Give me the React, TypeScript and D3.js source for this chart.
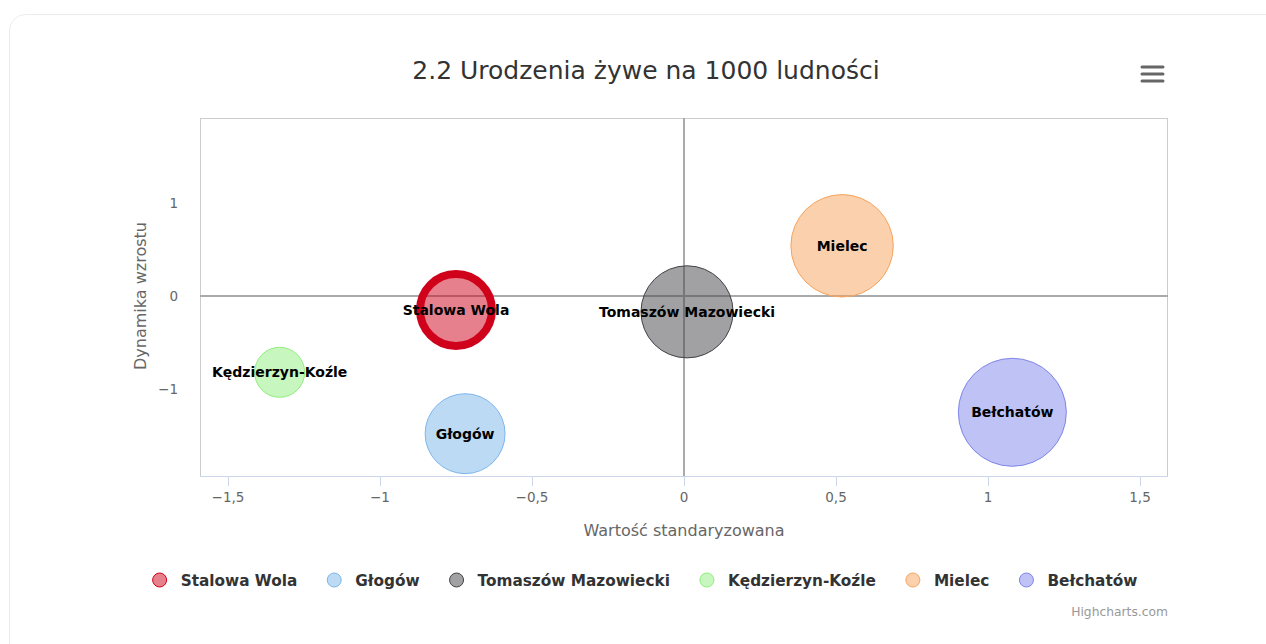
import * as d3 from "d3";
import React, { useEffect, useRef } from "react";

const cities = ["Stalowa Wola", "Głogów", "Tomaszów Mazowiecki", "Kędzierzyn-Koźle", "Mielec", "Bełchatów"];
const xValues = [-0.75, -0.72, 0.01, -1.33, 0.52, 1.08];
const yValues = [-0.15, -1.48, -0.17, -0.82, 0.54, -1.25];
const zValues = [8.6, 8.6, 9.25, 7.0, 9.8, 10.1];
const colors = ["#d0021b", "#7cb5ec", "#434348", "#90ed7d", "#f7a35c", "#8085e9"];
const xTicks = [-1.5, -1, -0.5, 0, 0.5, 1, 1.5];
const yTicks = [-1, 0, 1];

const FONT = "'DejaVu Sans', Verdana, sans-serif";

const fmt = (v: number) => {
  const s = String(Math.abs(v)).replace(".", ",");
  return v < 0 ? "−" + s : s;
};

const App = () => {
  const legendRef = useRef<SVGGElement>(null);

  const plot = { left: 200, right: 1168, top: 118, bottom: 476 };
  const x = d3.scaleLinear().domain([-1.592, 1.592]).range([plot.left, plot.right]);
  const y = d3.scaleLinear().domain([-1.935, 1.914]).range([plot.bottom, plot.top]);
  const r = d3.scaleLinear().domain([7.0, 10.1]).range([25, 54]);

  const points = cities.map((name, i) => ({
    name,
    x: xValues[i],
    y: yValues[i],
    z: zValues[i],
    color: colors[i],
    selected: i === 0,
  }));

  useEffect(() => {
    const g = d3.select(legendRef.current);
    g.selectAll("*").remove();
    const items = g.selectAll("g").data(points).join("g");
    items
      .append("circle")
      .attr("r", 7)
      .attr("cx", 7)
      .attr("cy", 0)
      .attr("fill", (d) => d.color)
      .attr("fill-opacity", 0.5)
      .attr("stroke", (d) => d.color)
      .attr("stroke-width", 1);
    items
      .append("text")
      .attr("x", 28)
      .attr("y", 5.5)
      .attr("font-family", FONT)
      .attr("font-size", 15.3)
      .attr("font-weight", "bold")
      .attr("fill", "#333")
      .text((d) => d.name);
    const widths: number[] = [];
    items.each(function () {
      const t = d3.select(this).select("text").node() as SVGTextElement;
      widths.push(28 + t.getComputedTextLength());
    });
    const gap = 30;
    const total = d3.sum(widths) + gap * (widths.length - 1);
    let cx = 645 - total / 2;
    items.attr("transform", (_, i) => {
      const tx = cx;
      cx += widths[i] + gap;
      return `translate(${tx},580)`;
    });
  }, []);

  return (
    <svg
      width={1266}
      height={644}
      style={{ position: "absolute", left: 0, top: 0, background: "#fff" }}
    >
      <rect x={9.5} y={14.5} width={1290} height={700} rx={16} fill="#fff" stroke="#ececec" />

      <text x={646} y={79} textAnchor="middle" fontFamily={FONT} fontSize={25} fill="#333">
        2.2 Urodzenia żywe na 1000 ludności
      </text>

      {/* menu button */}
      <g stroke="#666" strokeWidth={3} strokeLinecap="round">
        {[67, 74, 81].map((yy) => (
          <line key={yy} x1={1142} x2={1163} y1={yy} y2={yy} />
        ))}
      </g>

      {/* plot frame */}
      <rect
        x={plot.left + 0.5}
        y={plot.top + 0.5}
        width={plot.right - plot.left - 1}
        height={plot.bottom - plot.top}
        fill="none"
        stroke="#cccccc"
      />

      {/* x axis */}
      <line x1={plot.left} x2={plot.right} y1={plot.bottom + 0.5} y2={plot.bottom + 0.5} stroke="#ccd6eb" />
      {xTicks.map((t) => (
        <g key={t}>
          <line x1={x(t) + 0.5} x2={x(t) + 0.5} y1={plot.bottom} y2={plot.bottom + 10} stroke="#ccd6eb" />
          <text x={x(t)} y={plot.bottom + 26} textAnchor="middle" fontFamily={FONT} fontSize={13.5} fill="#666">
            {fmt(t)}
          </text>
        </g>
      ))}
      <text x={684} y={536} textAnchor="middle" fontFamily={FONT} fontSize={16} fill="#666">
        Wartość standaryzowana
      </text>

      {/* y axis */}
      {yTicks.map((t) => (
        <text key={t} x={178} y={y(t) + 5} textAnchor="end" fontFamily={FONT} fontSize={13.5} fill="#666">
          {fmt(t)}
        </text>
      ))}
      <text
        transform={`translate(146,${y(0)}) rotate(-90)`}
        textAnchor="middle"
        fontFamily={FONT}
        fontSize={16}
        fill="#666"
      >
        Dynamika wzrostu
      </text>

      {/* zero lines */}
      <line x1={plot.left} x2={plot.right} y1={y(0)} y2={y(0)} stroke="#aaaaaa" strokeWidth={2} />
      <line x1={x(0)} x2={x(0)} y1={plot.top} y2={plot.bottom} stroke="#aaaaaa" strokeWidth={2} />

      {/* bubbles */}
      {points.map((p) => (
        <circle
          key={p.name}
          cx={x(p.x)}
          cy={y(p.y)}
          r={p.selected ? r(p.z) - 4 : r(p.z)}
          fill={p.color}
          fillOpacity={0.5}
          stroke={p.color}
          strokeWidth={p.selected ? 8 : 1}
        />
      ))}
      {points.map((p) => (
        <text
          key={p.name}
          x={x(p.x)}
          y={y(p.y) + 5}
          textAnchor="middle"
          fontFamily={FONT}
          fontSize={14}
          fontWeight="bold"
          fill="#000"
        >
          {p.name}
        </text>
      ))}

      <g ref={legendRef} />

      <text x={1168} y={616} textAnchor="end" fontFamily={FONT} fontSize={12.3} fill="#999">
        Highcharts.com
      </text>
    </svg>
  );
};

export default App;
